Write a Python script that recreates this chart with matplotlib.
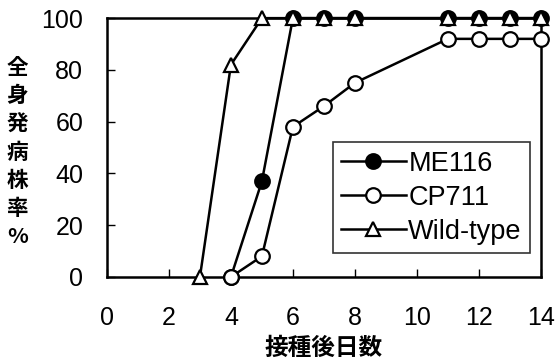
import matplotlib
matplotlib.use("Agg")
import matplotlib.pyplot as plt

plt.rcParams['font.family'] = ['Liberation Sans', 'Noto Sans CJK JP', 'DejaVu Sans']

# data
me116_days = [4, 5, 6, 7, 8, 11, 12, 13, 14]
me116_rate = [0, 37, 100, 100, 100, 100, 100, 100, 100]
cp711_days = [4, 5, 6, 7, 8, 11, 12, 13, 14]
cp711_rate = [0, 8, 58, 66, 75, 92, 92, 92, 92]
wild_days = [3, 4, 5, 6, 7, 8, 11, 12, 13, 14]
wild_rate = [0, 82, 100, 100, 100, 100, 100, 100, 100, 100]

x_ticks = [0, 2, 4, 6, 8, 10, 12, 14]
y_ticks = [0, 20, 40, 60, 80, 100]
ylabel = "全身発病株率%"
xlabel = "接種後日数"
cjk = ['Noto Sans CJK JP', 'DejaVu Sans']

fig = plt.figure(figsize=(5.57, 3.63), dpi=100)
ax = fig.add_axes([0.192, 0.237, 0.779, 0.713])

common = dict(color='black', lw=1.8, markersize=10.5, markeredgewidth=1.6, clip_on=False)
ax.plot(me116_days, me116_rate, marker='o', markerfacecolor='black', label='ME116', zorder=3, **common)
ax.plot(cp711_days, cp711_rate, marker='o', markerfacecolor='white', label='CP711', zorder=4, **common)
ax.plot(wild_days, wild_rate, marker='^', markerfacecolor='white', label='Wild-type', zorder=5, **common)

ax.set_xlim(0, 14)
ax.set_ylim(0, 100)
ax.set_xticks(x_ticks)
ax.set_yticks(y_ticks)
ax.tick_params(direction='in', length=6, width=1, labelsize=18, pad=21)
ax.tick_params(axis='y', pad=17)
for s in ax.spines.values():
    s.set_linewidth(1.8)

ax.set_xlabel(xlabel, fontsize=17, fontweight='bold', family=cjk, labelpad=4)
fig.text(0.031, 0.581, "\n".join(ylabel), fontsize=15.5, fontweight='bold', family=cjk,
         ha='center', va='center', linespacing=1.42)

leg = ax.legend(loc='lower right', bbox_to_anchor=(0.975, 0.093), fontsize=19.5,
                frameon=True, fancybox=False, edgecolor='black', handlelength=2.4,
                borderpad=0.3, labelspacing=0.3, handletextpad=0.1, borderaxespad=0)
leg.get_frame().set_linewidth(1.2)

fig.savefig("out.png", dpi=100)
